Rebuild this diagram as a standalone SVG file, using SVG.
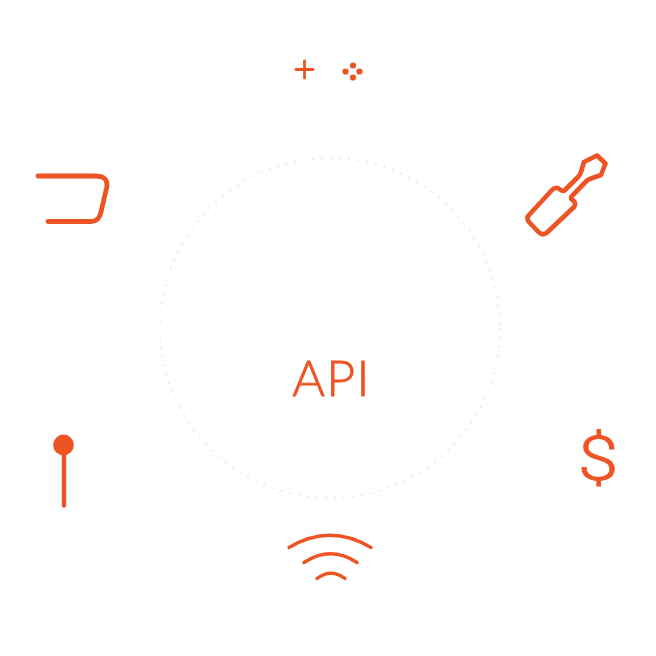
<svg xmlns="http://www.w3.org/2000/svg" width="656" height="656" viewBox="0 0 656 656">
<style>
.o{fill:none;stroke:#ee5423;stroke-linecap:round;stroke-linejoin:round}
.t{fill:#ee5423;stroke:#ee5423;font-weight:300}
</style>
<rect width="656" height="656" fill="#fff"/>
<g id="ring"><circle cx="330" cy="328" r="170" fill="none" stroke="#f3e9ec" stroke-width="2" stroke-dasharray="2 7"/></g>
<g id="api"><text class="t" x="331.500" y="396" font-size="50" letter-spacing="1.200" stroke-width="0.800" text-anchor="middle" font-family="Lato,sans-serif">API</text></g>
<g id="plus-dots">
<path class="o" stroke-width="2.800" d="M296,69.500H313M304.500,61V78"/>
<g fill="#ee5423"><circle cx="353" cy="65.500" r="3.100"/><circle cx="345.500" cy="71.500" r="3.100"/><circle cx="359.500" cy="71.500" r="3.100"/><circle cx="353" cy="77.500" r="3.100"/></g>
</g>
<g id="screwdriver"><path class="o" stroke-width="4.700" d="M597,155.500L605.500,163.500L601,175L591,178.500Q588,179.500 586,181.500L572,196Q570,198 572,199.500Q577,203 574,207L547,232.500Q543,236 539,232.500L529,222Q526,218 529,215L552,190Q556,186 560,189.500Q563,192 565,190L578,177Q580,175 581,172L584,162Z"/></g>
<g id="tab"><path class="o" stroke-width="4.800" d="M38,176H95Q108,176 107,186L101,212Q99,221.500 91,221.500H48"/></g>
<g id="pin"><circle cx="63.500" cy="445" r="10.400" fill="#ee5423"/><path class="o" stroke-width="4.400" d="M64,445V505.500"/></g>
<g id="wifi"><path class="o" stroke-width="3.400" d="M289,547.500Q330,523 371,547.500M304,562.500Q330.500,545 357,562.500M317,578.500Q331,568 345,578.500"/></g>
<g id="dollar"><text class="t" transform="translate(598 480) scale(1.180 1)" font-size="62" stroke-width="0.800" text-anchor="middle" font-family="Roboto,sans-serif">$</text></g>
</svg>
